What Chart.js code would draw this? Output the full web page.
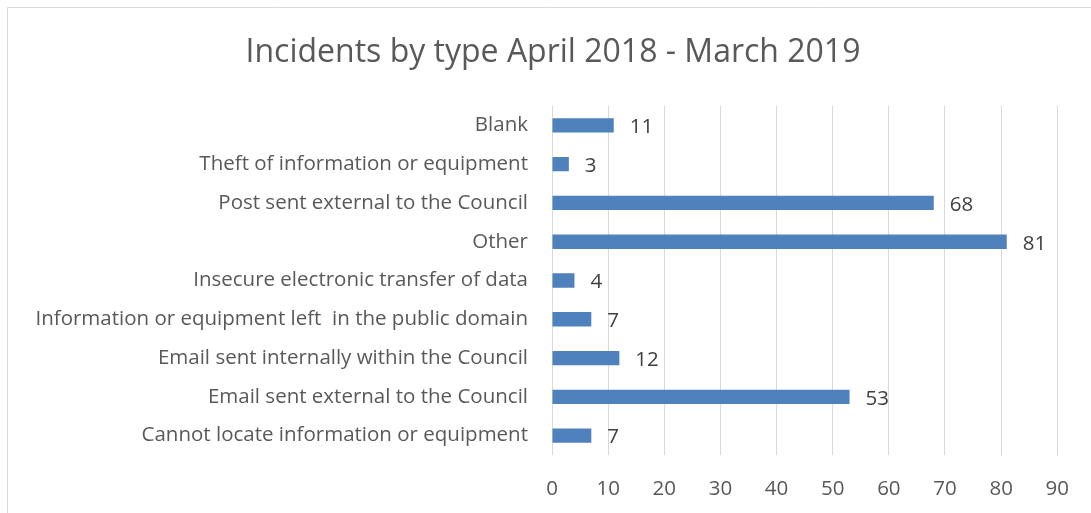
<!DOCTYPE html>
<html>
<head>
<meta charset="utf-8">
<script src="https://cdn.jsdelivr.net/npm/chart.js@4/dist/chart.umd.min.js"></script>
<style>
html,body{margin:0;padding:0;background:#fff;}
#wrap{position:relative;width:1091px;height:513px;}
canvas{display:block;}
</style>
</head>
<body>
<div id="wrap"><canvas id="c" width="1091" height="513"></canvas></div>
<script>
const chartTitle = "Incidents by type April 2018 - March 2019";
const categories = [
  "Blank",
  "Theft of information or equipment",
  "Post sent external to the Council",
  "Other",
  "Insecure electronic transfer of data",
  "Information or equipment left  in the public domain",
  "Email sent internally within the Council",
  "Email sent external to the Council",
  "Cannot locate information or equipment"
];
const incidents = [11, 3, 68, 81, 4, 7, 12, 53, 7];
const xTicks = [0, 10, 20, 30, 40, 50, 60, 70, 80, 90];

const FONT = "'Open Sans', sans-serif";

const frame = {
  id: 'frame',
  beforeDraw(chart) {
    const ctx = chart.ctx;
    ctx.save();
    ctx.fillStyle = '#fff';
    ctx.fillRect(0, 0, chart.width, chart.height);
    ctx.strokeStyle = '#d9d9d9';
    ctx.lineWidth = 1;
    ctx.beginPath();
    ctx.moveTo(7.5, chart.height);
    ctx.lineTo(7.5, 7.5);
    ctx.lineTo(chart.width, 7.5);
    ctx.stroke();
    ctx.restore();
  },
  afterDraw(chart) {
    const ctx = chart.ctx;
    ctx.save();
    ctx.font = "32px " + FONT;
    ctx.fillStyle = '#595959';
    ctx.textAlign = 'center';
    ctx.textBaseline = 'alphabetic';
    ctx.fillText(chartTitle, 553, 62);
    ctx.restore();
  }
};

const valueLabels = {
  id: 'valueLabels',
  afterDatasetsDraw(chart) {
    const ctx = chart.ctx;
    const meta = chart.getDatasetMeta(0);
    ctx.save();
    ctx.font = "20.5px " + FONT;
    ctx.fillStyle = '#404040';
    ctx.textAlign = 'left';
    ctx.textBaseline = 'middle';
    meta.data.forEach((bar, i) => {
      ctx.fillText(String(chart.data.datasets[0].data[i]), bar.x + 16, bar.y + 2);
    });
    ctx.restore();
  }
};

new Chart(document.getElementById('c'), {
  type: 'bar',
  data: {
    labels: categories,
    datasets: [{
      data: incidents,
      backgroundColor: '#4f81bd',
      borderWidth: 0,
      categoryPercentage: 1,
      barPercentage: 0.37
    }]
  },
  plugins: [frame, valueLabels],
  options: {
    indexAxis: 'y',
    responsive: false,
    animation: false,
    layout: { padding: { left: 0, right: 33, top: 106, bottom: 0 } },
    plugins: {
      legend: { display: false },
      tooltip: { enabled: false },
      title: { display: false }
    },
    scales: {
      x: {
        min: 0, max: 90,
        afterBuildTicks(scale) { scale.ticks = xTicks.map(v => ({ value: v })); },
        afterFit(scale) { scale.height = 58; },
        grid: { color: '#d9d9d9', lineWidth: 1, drawTicks: false },
        border: { display: false },
        ticks: { color: '#595959', font: { family: FONT, size: 20.5 }, padding: 22 }
      },
      y: {
        afterFit(scale) { scale.width = 552; },
        grid: { display: false },
        border: { display: false },
        ticks: { color: '#595959', font: { family: FONT, size: 20.5 }, padding: 16 }
      }
    }
  }
});
</script>
</body>
</html>
